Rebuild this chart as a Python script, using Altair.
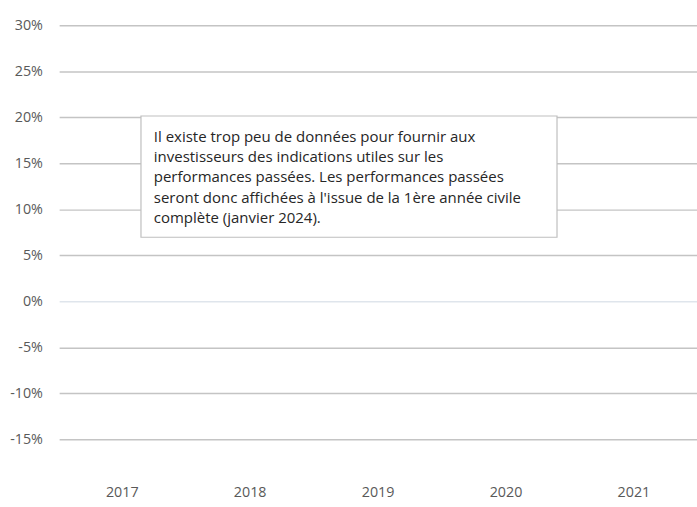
import altair as alt
import pandas as pd

years = ["2017", "2018", "2019", "2020", "2021"]
values = [None, None, None, None, None]
y_ticks = [-15, -10, -5, 0, 5, 10, 15, 20, 25, 30]
note_lines = [
    "Il existe trop peu de données pour fournir aux",
    "investisseurs des indications utiles sur les",
    "performances passées. Les performances passées",
    "seront donc affichées à l'issue de la 1ère année civile",
    "complète (janvier 2024).",
]

df = pd.DataFrame({"year": years, "value": values})
FONT = "Open Sans"

base = alt.Chart(df).mark_bar(color="#4472c4", opacity=0).encode(
    x=alt.X("year:N", sort=years, title=None,
            scale=alt.Scale(paddingInner=0.3, paddingOuter=0.143),
            axis=alt.Axis(labelAngle=0, domain=False, ticks=False, labelPadding=47,
                          labelFontSize=14.5, labelColor="#595959", labelFont=FONT, grid=False)),
    y=alt.Y("value:Q", title=None,
            scale=alt.Scale(domain=[-15, 30], nice=False, zero=False),
            axis=alt.Axis(values=y_ticks, labelExpr="datum.value + '%'", domain=False, ticks=False,
                          labelPadding=17, labelFontSize=14.5, labelColor="#595959", labelFont=FONT,
                          grid=True, gridWidth=1.5,
                          gridColor={"condition": {"test": "datum.value === 0", "value": "#dfe5ec"},
                                     "value": "#c4c4c4"})),
)

one = pd.DataFrame({"k": [0]})
box = alt.Chart(one).mark_rect(fill="white", stroke="#bfbfbf", strokeWidth=1.2).encode(
    x=alt.value(83), x2=alt.value(505), y=alt.value(92), y2=alt.value(215)
)
note = alt.Chart(one).mark_text(align="left", baseline="middle", fontSize=15.2, font=FONT,
                                lineHeight=20.6, color="#262626").encode(
    x=alt.value(96), y=alt.value(113), text=alt.value(note_lines)
)

chart = alt.layer(base, box, note).properties(
    width=647, height=420,
    padding={"left": 60, "top": 22, "right": 0, "bottom": 65},
    autosize=alt.AutoSizeParams(type="none"),
    background="white",
).configure_view(strokeWidth=0)

chart.save("out.html", embed_options={"renderer": "svg", "actions": False})
